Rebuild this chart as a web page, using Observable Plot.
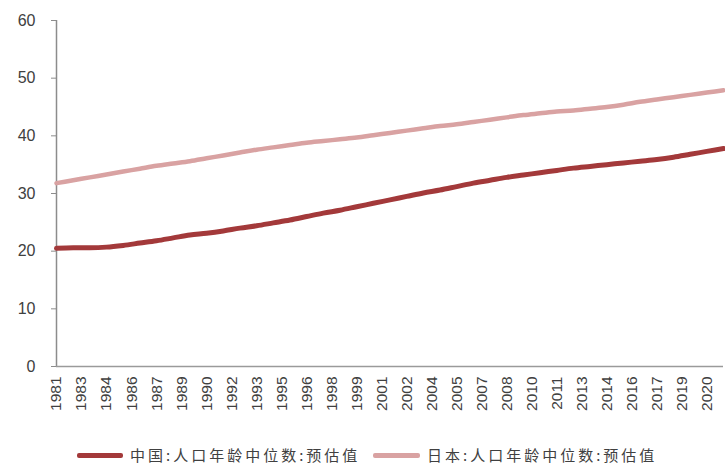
<!DOCTYPE html>
<html>
<head>
<meta charset="utf-8">
<script src="https://cdn.jsdelivr.net/npm/d3@7"></script>
<script src="https://cdn.jsdelivr.net/npm/@observablehq/plot@0.6"></script>
<style>
  body { margin: 0; background: #fff; }
  #chart { position: relative; width: 725px; height: 465px; }
  #chart svg { display: block; }
  .legend { position: absolute; top: 428px; left: 0; width: 725px; height: 36px;
            font-family: "Noto Sans CJK SC", sans-serif; font-size: 15px; color: #404040; }
  .sw { position: absolute; top: 25px; height: 4.5px; border-radius: 2px; }
  .lb { position: absolute; top: 16px; line-height: 22px; letter-spacing: 3px; white-space: nowrap; }
</style>
</head>
<body>
<div id="chart"></div>
<script>
// Median age estimates, 1981–2021
const years = [1981, 1982, 1983, 1984, 1985, 1986, 1987, 1988, 1989, 1990,
               1991, 1992, 1993, 1994, 1995, 1996, 1997, 1998, 1999, 2000,
               2001, 2002, 2003, 2004, 2005, 2006, 2007, 2008, 2009, 2010,
               2011, 2012, 2013, 2014, 2015, 2016, 2017, 2018, 2019, 2020, 2021];
const chinaMedian = [20.5, 20.6, 20.6, 20.7, 21.0, 21.4, 21.8, 22.3, 22.8, 23.1,
                     23.5, 24.0, 24.4, 24.9, 25.4, 26.0, 26.6, 27.1, 27.7, 28.3,
                     28.9, 29.5, 30.1, 30.6, 31.2, 31.8, 32.3, 32.8, 33.2, 33.6,
                     34.0, 34.4, 34.7, 35.0, 35.3, 35.6, 35.9, 36.3, 36.8, 37.3, 37.8];
const japanMedian = [31.8, 32.3, 32.8, 33.3, 33.8, 34.3, 34.8, 35.2, 35.6, 36.1,
                     36.6, 37.1, 37.6, 38.0, 38.4, 38.8, 39.1, 39.4, 39.7, 40.1,
                     40.5, 40.9, 41.3, 41.7, 42.0, 42.4, 42.8, 43.2, 43.6, 43.9,
                     44.2, 44.4, 44.7, 45.0, 45.4, 45.9, 46.3, 46.7, 47.1, 47.5, 47.9];
const seriesNames = ["中国:人口年龄中位数:预估值", "日本:人口年龄中位数:预估值"];
const seriesColors = ["#a3393a", "#d9a2a2"];

// Date axis with an 18-month step
const xTicks = [1981, 1982.5, 1984, 1985.5, 1987, 1988.5, 1990, 1991.5, 1993, 1994.5,
                1996, 1997.5, 1999, 2000.5, 2002, 2003.5, 2005, 2006.5, 2008, 2009.5,
                2011, 2012.5, 2014, 2015.5, 2017, 2018.5, 2020];
const xTickLabels = ["1981", "1983", "1984", "1986", "1987", "1989", "1990", "1992", "1993", "1995",
                     "1996", "1998", "1999", "2001", "2002", "2004", "2005", "2007", "2008", "2010",
                     "2011", "2013", "2014", "2016", "2017", "2019", "2020"];
const yTicks = [0, 10, 20, 30, 40, 50, 60];

const china = years.map((y, i) => ({year: y, value: chinaMedian[i]}));
const japan = years.map((y, i) => ({year: y, value: japanMedian[i]}));

const plot = Plot.plot({
  width: 725,
  height: 428,
  marginLeft: 56,
  marginRight: 2,
  marginTop: 20,
  marginBottom: 62,
  style: { fontFamily: "'Liberation Sans', Arial, sans-serif", background: "#fff" },
  x: { domain: [1981, 2021] },
  y: { domain: [0, 60] },
  marks: [
    Plot.axisY({ ticks: yTicks, tickSize: 5, tickPadding: 16, fontSize: 16,
                 stroke: "#8c8c8c", fill: "#404040", label: null }),
    Plot.axisX({ ticks: xTicks, tickFormat: d => xTickLabels[xTicks.indexOf(d)],
                 tickRotate: -90, tickSize: 0, tickPadding: 10, fontSize: 15.5,
                 fill: "#404040", label: null }),
    Plot.ruleX([1981], { y1: 0, y2: 60, stroke: "#8c8c8c", strokeWidth: 1.5 }),
    Plot.ruleY([0], { x1: 1981, x2: 2021, stroke: "#9a9a9a", strokeWidth: 1.5 }),
    Plot.line(japan, { x: "year", y: "value", stroke: seriesColors[1], strokeWidth: 4.5, curve: "monotone-x" }),
    Plot.line(china, { x: "year", y: "value", stroke: seriesColors[0], strokeWidth: 5, curve: "monotone-x" })
  ]
});

const chart = document.getElementById("chart");
chart.appendChild(plot);

const legend = document.createElement("div");
legend.className = "legend";
const items = [
  { sw: 77, w: 46, lb: 130 },
  { sw: 373, w: 47, lb: 427 }
];
items.forEach((it, i) => {
  const s = document.createElement("div");
  s.className = "sw";
  s.style.left = it.sw + "px";
  s.style.width = it.w + "px";
  s.style.background = seriesColors[i];
  const t = document.createElement("div");
  t.className = "lb";
  t.style.left = it.lb + "px";
  t.textContent = seriesNames[i];
  legend.appendChild(s);
  legend.appendChild(t);
});
chart.appendChild(legend);
</script>
</body>
</html>
